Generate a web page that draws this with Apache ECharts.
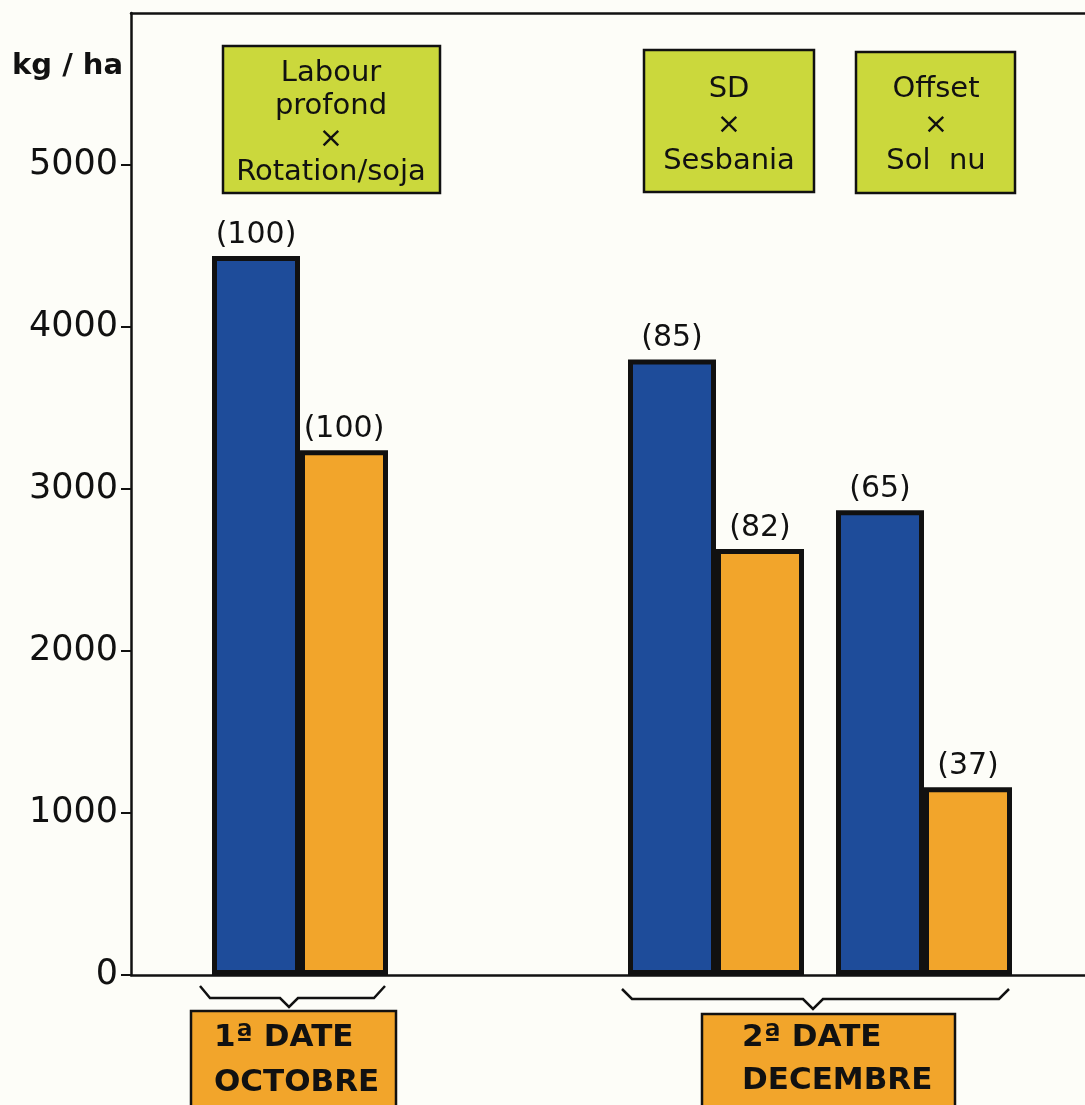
<!DOCTYPE html>
<html>
<head>
<meta charset="utf-8">
<script src="https://cdn.jsdelivr.net/npm/echarts@6/dist/echarts.min.js"></script>
<style>
html,body{margin:0;padding:0;background:#fdfdf8;}
#chart{width:1085px;height:1105px;}
</style>
</head>
<body>
<div id="chart"></div>
<script>
// ---- data ----
const treatments = ['Labour profond × Rotation/soja', '', 'SD × Sesbania', 'Offset × Sol nu'];
const blueValues = [4440, null, 3800, 2870];
const orangeValues = [3240, null, 2630, 1160];
const blueIndex = ['(100)', '', '(85)', '(65)'];
const orangeIndex = ['(100)', '', '(82)', '(37)'];
const yTicks = [0, 1000, 2000, 3000, 4000, 5000];
const yUnit = 'kg / ha';
const dateLabels = ['1ª DATE\nOCTOBRE', '2ª DATE\nDECEMBRE'];
const treatmentBoxes = ['Labour\nprofond\n×\nRotation/soja', 'SD\n×\nSesbania', 'Offset\n×\nSol  nu'];

const FONT = 'DejaVu Sans';
const INK = '#111111';
const BLUE = '#1e4c9a';
const ORANGE = '#f2a52b';
const GREEN = '#cbd83c';
const YMAX = 5940;

const chart = echarts.init(document.getElementById('chart'));

function box(x, y, w, h, fill) {
  return {type: 'rect', shape: {x: x, y: y, width: w, height: h},
    style: {fill: fill, stroke: INK, lineWidth: 2.5}, z: 10};
}
function txt(x, y, text, size, weight, align, lh) {
  return {type: 'text', x: x, y: y, z: 11,
    style: {text: text, font: weight + ' ' + size + 'px "' + FONT + '"', fill: INK,
      textAlign: align, textVerticalAlign: 'middle', lineHeight: lh}};
}
function brace(pts) {
  return {type: 'polyline', shape: {points: pts},
    style: {stroke: INK, lineWidth: 2.5, fill: null}, z: 10};
}

const frameLine = {show: true, lineStyle: {color: INK, width: 2.5}};

const option = {
  backgroundColor: '#fdfdf8',
  animation: false,
  grid: [
    {left: 131, top: 13, right: 0, bottom: 130},
    {left: 196, top: 13, right: 57, bottom: 130}
  ],
  xAxis: [
    {gridIndex: 0, type: 'category', data: [''], position: 'bottom', axisLine: frameLine,
      axisTick: {show: false}, axisLabel: {show: false}},
    {gridIndex: 1, type: 'category', data: treatments, show: false},
    {gridIndex: 0, type: 'category', data: [''], position: 'top', axisLine: frameLine,
      axisTick: {show: false}, axisLabel: {show: false}}
  ],
  yAxis: [
    {gridIndex: 0, type: 'value', min: 0, max: YMAX, interval: 1000,
      splitLine: {show: false}, axisLine: frameLine,
      axisTick: {show: true, length: 10, customValues: yTicks, lineStyle: {color: INK, width: 2}},
      axisLabel: {customValues: yTicks, margin: 13, color: INK, fontFamily: FONT, fontSize: 35,
        formatter: function (v) { return yTicks.indexOf(v) >= 0 ? String(v) : ''; }}},
    {gridIndex: 1, type: 'value', min: 0, max: YMAX, show: false, splitLine: {show: false}}
  ],
  series: [
    {type: 'bar', xAxisIndex: 1, yAxisIndex: 1, data: blueValues, barWidth: 88, barGap: '0%',
      itemStyle: {color: BLUE, borderColor: INK, borderWidth: 5},
      label: {show: true, position: 'top', distance: 6, color: INK, fontFamily: FONT, fontSize: 30,
        formatter: function (p) { return blueIndex[p.dataIndex]; }}},
    {type: 'bar', xAxisIndex: 1, yAxisIndex: 1, data: orangeValues, barWidth: 88, barGap: '0%',
      itemStyle: {color: ORANGE, borderColor: INK, borderWidth: 5},
      label: {show: true, position: 'top', distance: 6, color: INK, fontFamily: FONT, fontSize: 30,
        formatter: function (p) { return orangeIndex[p.dataIndex]; }}}
  ],
  graphic: [
    txt(12, 66, yUnit, 29, 'bold', 'left', 32),
    box(223, 46, 217, 147, GREEN),
    txt(331, 123, treatmentBoxes[0], 29, 'normal', 'center', 33),
    box(644, 50, 170, 142, GREEN),
    txt(729, 125, treatmentBoxes[1], 29, 'normal', 'center', 36),
    box(856, 52, 159, 141, GREEN),
    txt(936, 125, treatmentBoxes[2], 29, 'normal', 'center', 36),
    brace([[200, 986], [210, 998], [280, 998], [289, 1007], [298, 998], [374, 998], [385, 986]]),
    brace([[622, 989], [632, 999], [803, 999], [813, 1009], [823, 999], [999, 999], [1009, 989]]),
    box(191, 1011, 205, 100, ORANGE),
    txt(214, 1060, dateLabels[0], 31, 'bold', 'left', 45),
    box(702, 1014, 253, 100, ORANGE),
    txt(742, 1059, dateLabels[1], 31, 'bold', 'left', 43)
  ]
};
chart.setOption(option);
</script>
</body>
</html>
